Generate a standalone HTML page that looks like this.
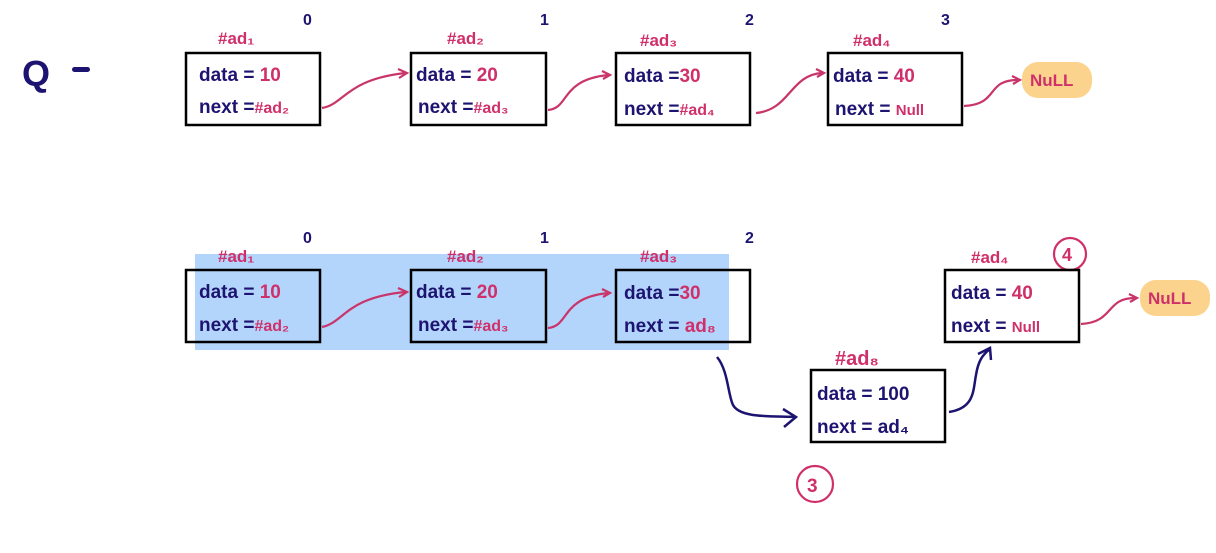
<!DOCTYPE html>
<html><head><style>
body{margin:0;background:#fff;}
svg text{font-family:"Liberation Sans",sans-serif;}
.n{fill:#1c1470;font-size:19px;font-weight:bold;}
.p{fill:#d0306a;}
.lbl{fill:#d0306a;font-size:17px;font-weight:bold;}
.idx{fill:#1c1470;font-size:16px;font-weight:bold;}
.box{fill:none;stroke:#000;stroke-width:2.5;}
.ap{fill:none;stroke:#c9356a;stroke-width:2.2;}
.an{fill:none;stroke:#1c1470;stroke-width:2.5;}
</style></head><body>
<svg width="1216" height="548" viewBox="0 0 1216 548">
<rect x="195" y="254" width="534" height="96" fill="#b3d4fb"/>
<!-- Q = -->
<text x="22" y="86" style="fill:#1c1470;font-size:36px;font-weight:bold">Q</text>
<rect x="72" y="67" width="18" height="5" rx="2.5" fill="#1c1470"/>

<!-- top row -->
<g>
<text class="lbl" x="218" y="44">#ad₁</text><text class="idx" x="303" y="25">0</text>
<rect class="box" x="186" y="53" width="134" height="72"/>
<text class="n" x="199" y="81">data = <tspan class="p">10</tspan></text>
<text class="n" x="199" y="113">next =<tspan class="p" font-size="16">#ad₂</tspan></text>

<text class="lbl" x="447" y="44">#ad₂</text><text class="idx" x="540" y="25">1</text>
<rect class="box" x="411" y="53" width="135" height="72"/>
<text class="n" x="416" y="81">data = <tspan class="p">20</tspan></text>
<text class="n" x="418" y="113">next =<tspan class="p" font-size="16">#ad₃</tspan></text>

<text class="lbl" x="640" y="46">#ad₃</text><text class="idx" x="745" y="25">2</text>
<rect class="box" x="616" y="53" width="134" height="72"/>
<text class="n" x="624" y="82">data =<tspan class="p">30</tspan></text>
<text class="n" x="624" y="115">next =<tspan class="p" font-size="16">#ad₄</tspan></text>

<text class="lbl" x="853" y="46">#ad₄</text><text class="idx" x="941" y="25">3</text>
<rect class="box" x="828" y="53" width="134" height="72"/>
<text class="n" x="833" y="82">data = <tspan class="p">40</tspan></text>
<text class="n" x="835" y="115">next = <tspan class="p" font-size="15">Null</tspan></text>

<rect x="1022" y="62" width="70" height="36" rx="16" fill="#fbd38d"/>
<text x="1030" y="86" class="p" style="font-size:17px;font-weight:bold">NuLL</text>

<path class="ap" d="M322 108 C345 104,345 80,405 73"/><path class="ap" d="M398 69 L407 73 L399 78"/>
<path class="ap" d="M548 110 C570 108,560 80,608 75"/><path class="ap" d="M602 71 L610 75 L603 79"/>
<path class="ap" d="M756 113 C790 110,790 75,822 73"/><path class="ap" d="M816 69 L824 73 L817 77"/>
<path class="ap" d="M964 106 C1000 104,985 80,1018 80"/><path class="ap" d="M1012 76 L1020 80 L1013 84"/>
</g>

<!-- bottom row -->
<g>
<text class="lbl" x="218" y="262">#ad₁</text><text class="idx" x="303" y="243">0</text>
<rect class="box" x="186" y="270" width="134" height="72"/>
<text class="n" x="199" y="298">data = <tspan class="p">10</tspan></text>
<text class="n" x="199" y="331">next =<tspan class="p" font-size="16">#ad₂</tspan></text>

<text class="lbl" x="447" y="262">#ad₂</text><text class="idx" x="540" y="243">1</text>
<rect class="box" x="411" y="270" width="135" height="72"/>
<text class="n" x="416" y="298">data = <tspan class="p">20</tspan></text>
<text class="n" x="418" y="331">next =<tspan class="p" font-size="16">#ad₃</tspan></text>

<text class="lbl" x="640" y="262">#ad₃</text><text class="idx" x="745" y="243">2</text>
<rect class="box" x="616" y="270" width="134" height="72"/>
<text class="n" x="624" y="299">data =<tspan class="p">30</tspan></text>
<text class="n" x="624" y="332">next = <tspan class="p">ad₈</tspan></text>

<text class="lbl" x="971" y="263">#ad₄</text>
<circle cx="1070" cy="254" r="16" fill="none" stroke="#d0306a" stroke-width="2.2"/>
<text x="1062" y="261" class="p" style="font-size:18px;font-weight:bold">4</text>
<rect class="box" x="945" y="270" width="134" height="72"/>
<text class="n" x="951" y="299">data = <tspan class="p">40</tspan></text>
<text class="n" x="951" y="332">next = <tspan class="p" font-size="15">Null</tspan></text>
<rect x="1140" y="280" width="70" height="36" rx="16" fill="#fbd38d"/>
<text x="1148" y="304" class="p" style="font-size:17px;font-weight:bold">NuLL</text>

<text x="835" y="365" class="p" style="font-size:20px;font-weight:bold">#ad₈</text>
<rect class="box" x="811" y="370" width="134" height="72"/>
<text class="n" x="817" y="400">data = 100</text>
<text class="n" x="817" y="433">next = ad₄</text>

<circle cx="815" cy="484" r="18" fill="none" stroke="#d0306a" stroke-width="2.2"/>
<text x="807" y="492" class="p" style="font-size:19px;font-weight:bold">3</text>

<path class="ap" d="M322 327 C345 322,345 298,405 292"/><path class="ap" d="M398 288 L407 292 L399 297"/>
<path class="ap" d="M548 328 C570 326,560 298,608 293"/><path class="ap" d="M602 289 L610 293 L603 297"/>
<path class="ap" d="M1081 324 C1115 322,1105 298,1135 298"/><path class="ap" d="M1129 294 L1137 298 L1130 302"/>

<path class="an" d="M717 357 C728 370,728 395,733 405 C740 418,770 416,795 417"/>
<path class="an" d="M783 409 L796 417 L784 427"/>
<path class="an" d="M949 412 C975 408,973 390,976 375 C978 362,982 355,990 349"/>
<path class="an" d="M978 354 L990 348 L991 360"/>
</g>
</svg>
</body></html>
